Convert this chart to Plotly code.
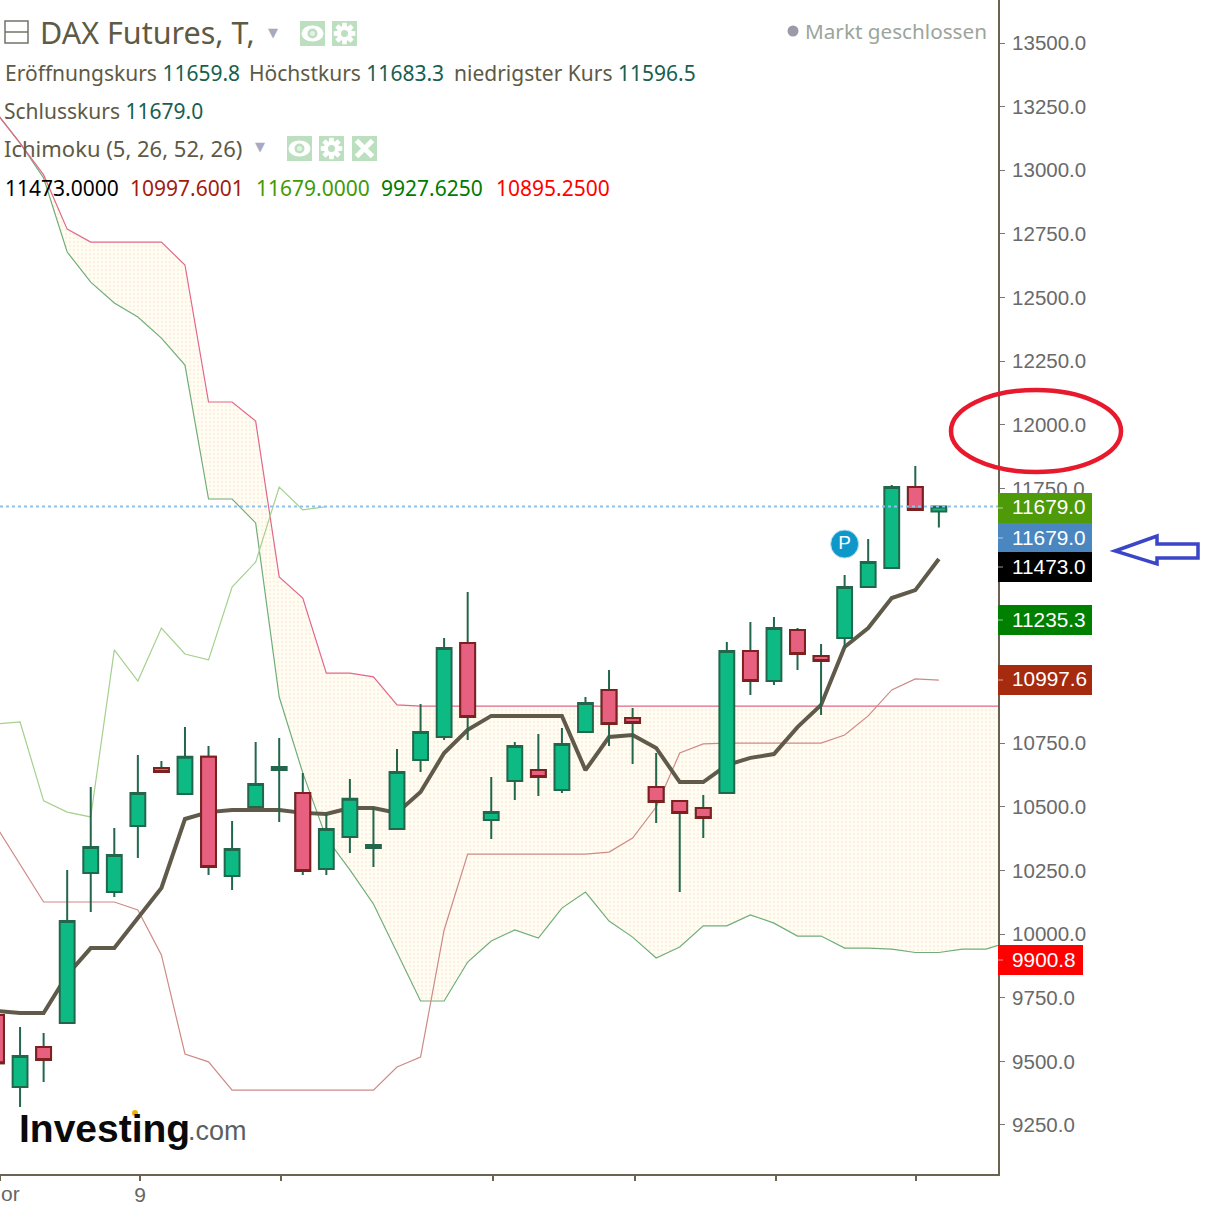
import math

import plotly.graph_objects as go

W, H = 1223, 1208
PLOT_W, PLOT_H = 998, 1174

# daily candles
candle_x = list(range(41))
candle_open = [9682, 9399, 9556, 9651, 10240, 10165, 10424, 10652, 10550, 10696, 10228, 10499, 10644, 10554, 10256, 10381, 10338, 10413, 10684, 10774, 11143,
               10448, 10601, 10644, 10566, 10794, 10959, 10849, 10578, 10523, 10495, 10554, 11112, 10994, 11194, 11092, 11163, 11363, 11438, 11756, 11659.8]
candle_high = [9694, 9635, 9611, 10252, 10578, 10417, 10703, 10680, 10813, 10739, 10444, 10754, 10770, 10633, 10476, 10609, 10495, 10727, 10904, 11163, 11344,
               10617, 10754, 10786, 10809, 10931, 11037, 10888, 10711, 10523, 10546, 11147, 11226, 11245, 11202, 11139, 11410, 11552, 11764, 11839, 11683.3]
candle_low = [9482, 9321, 9419, 9651, 10087, 10146, 10299, 10637, 10550, 10232, 10173, 10499, 10440, 10232, 10232, 10318, 10263, 10409, 10637, 10762, 10762,
              10373, 10527, 10542, 10554, 10794, 10739, 10668, 10436, 10165, 10377, 10554, 10939, 10978, 11037, 10860, 11128, 11363, 11438, 11666, 11596.5]
candle_close = [9493, 9521, 9505, 10051, 10342, 10311, 10554, 10637, 10696, 10263, 10334, 10589, 10656, 10248, 10413, 10531, 10350, 10637, 10794, 11124, 10853,
                10479, 10739, 10617, 10747, 10908, 10825, 10829, 10519, 10476, 10456, 11112, 10994, 11202, 11100, 11073, 11363, 11461, 11756, 11666, 11679.0]

# ichimoku lines
tenkan = [9698, 9690, 9690, 9839, 9945, 9945, 10063, 10181, 10452, 10479, 10487, 10487, 10487, 10476, 10472, 10495, 10495, 10476, 10558, 10711, 10802,
          10857, 10857, 10857, 10857, 10644, 10774, 10782, 10731, 10597, 10597, 10664, 10692, 10707, 10813, 10900, 11128, 11202, 11320, 11351, 11473]
kijun = [10421, 10275, 10126, 10126, 10126, 10126, 10095, 9918, 9529, 9498, 9387, 9387, 9387, 9387, 9387, 9387, 9387, 9478, 9517, 10016, 10314,
         10314, 10314, 10314, 10314, 10314, 10322, 10377, 10499, 10711, 10747, 10750, 10750, 10750, 10750, 10750, 10782, 10857, 10959, 11002, 10997.6]
chikou = [10825, 10833, 10523, 10479, 10460, 11116, 10994, 11202, 11100, 11077, 11363, 11461, 11756, 11666, 11679]
span_upper = [13225, 13107, 12982, 12769, 12718, 12718, 12718, 12718, 12628, 12090, 12090, 12015, 11403, 11320, 11025, 11025, 11010, 10900] + [10895.25] * 26
span_lower = [13225, 13107, 12970, 12679, 12561, 12479, 12424, 12341, 12235, 11709, 11709, 11615, 10931, 10633, 10377, 10252, 10118, 9930, 9737, 9737, 9890,
              9973, 10016, 9984, 10102, 10165, 10051, 9988, 9906, 9949, 10032, 10032, 10075, 10043, 9992, 9992, 9945, 9945, 9941, 9927.6, 9927.6, 9941, 9941, 9969]
cloud_x = list(range(44))

last_close = 11679.0
pivot_x, pivot_y = 36, 11532

# price tags on the right
tag_values = ["11679.0", "11679.0", "11473.0", "11235.3", "10997.6", "9900.8"]
tag_colors = ["#4f9a08", "#4a86c0", "#000000", "#008000", "#a52a0e", "#ff0000"]
tag_tops = [493, 523, 552, 605, 665, 945]
tag_widths = [94, 94, 94, 94, 94, 85]

# 11000, 11250 and 11500 sit behind the tags
y_ticks = [9250, 9500, 9750, 10000, 10250, 10500, 10750, 11750, 12000, 12250, 12500, 12750, 13000, 13250, 13500]
x_ticks = [0.15, 6.09, 12.08, 21.07, 27.1, 33.1, 39.03]
x_labels = ["", "9", "", "", "", "", ""]

y_range = [9057.5, 13669]
x_range = [0.1486, 42.51]


def px(x):
    return x / PLOT_W


def py(y):
    return 1 - y / PLOT_H


fig = go.Figure()

fig.add_trace(go.Scatter(x=cloud_x, y=span_lower, mode="lines", line=dict(color="#6fae78", width=1.2)))
fig.add_trace(go.Scatter(x=cloud_x, y=span_upper, mode="lines", line=dict(color="#e2688a", width=1.2), fill="tonexty",
                         fillcolor="#fffbea",
                         fillpattern=dict(shape=".", bgcolor="#fffef2", fgcolor="#fde0d6", size=4, solidity=0.3)))
fig.add_trace(go.Scatter(x=candle_x, y=kijun, mode="lines", line=dict(color="#cf8a86", width=1.2)))
fig.add_trace(go.Scatter(x=candle_x[:len(chikou)], y=chikou, mode="lines", line=dict(color="#a6d08e", width=1.2)))
fig.add_trace(go.Scatter(x=candle_x, y=tenkan, mode="lines", line=dict(color="#5f5a4a", width=4)))

# wicks and green bodies, red bodies go on top because their outline differs
fig.add_trace(go.Candlestick(x=candle_x, open=candle_open, high=candle_high, low=candle_low, close=candle_close,
                             xaxis="x2", yaxis="y2", whiskerwidth=0,
                             increasing=dict(line=dict(color="#22674c", width=2), fillcolor="#0dba84"),
                             decreasing=dict(line=dict(color="#22674c", width=2), fillcolor="#0dba84")))
red = [i for i in candle_x if candle_close[i] < candle_open[i]]
fig.add_trace(go.Candlestick(x=red, open=[candle_open[i] for i in red], high=[candle_open[i] for i in red],
                             low=[candle_close[i] for i in red], close=[candle_close[i] for i in red],
                             xaxis="x2", yaxis="y2", whiskerwidth=0,
                             increasing=dict(line=dict(color="#7c2020", width=2), fillcolor="#e8607f"),
                             decreasing=dict(line=dict(color="#7c2020", width=2), fillcolor="#e8607f")))
fig.add_trace(go.Scatter(x=[pivot_x], y=[pivot_y], mode="markers+text", text=["P"], textposition="middle center",
                         textfont=dict(color="white", size=19, family="Liberation Sans"),
                         marker=dict(size=28, color="#0e97c9", line=dict(color="#b5dfee", width=1)),
                         xaxis="x2", yaxis="y2"))

fig.add_shape(type="line", xref="paper", x0=0, x1=1, yref="y", y0=last_close, y1=last_close,
              line=dict(color="#8fc2ea", width=2, dash="dot"))


def label(x, y, text, size, color, family="Noto Sans", anchor="left"):
    fig.add_annotation(xref="paper", yref="paper", x=px(x), y=py(y), text=text, showarrow=False,
                       xanchor=anchor, yanchor="middle", borderpad=0,
                       font=dict(size=size, color=color, family=family))


def dot(x, y, r, color):
    fig.add_shape(type="circle", xref="paper", yref="paper", x0=px(x - r), x1=px(x + r), y0=py(y + r), y1=py(y - r),
                  fillcolor=color, line=dict(width=0))


GREY = "#5d5a45"
VAL = "#17604f"

# legend block
label(39, 32, "DAX Futures, T,", 30.5, GREY)
label(4, 72.6, f'Eröffnungskurs <span style="color:{VAL}">11659.8</span>', 21, GREY)
label(248, 72.6, f'Höchstkurs <span style="color:{VAL}">11683.3</span>', 21, GREY)
label(453, 72.6, f'niedrigster Kurs <span style="color:{VAL}">11596.5</span>', 21, GREY)
label(3, 110.6, f'Schlusskurs <span style="color:{VAL}">11679.0</span>', 21, GREY)
label(3, 148, "Ichimoku (5, 26, 52, 26)", 22, GREY)
label(4, 187.6, "11473.0000", 21, "#000000")
label(129, 187.6, "10997.6001", 21, "#a01c10")
label(255, 187.6, "11679.0000", 21, "#3f9a06")
label(380, 187.6, "9927.6250", 21, "#007a00")
label(495, 187.6, "10895.2500", 21, "#ff0000")
label(804, 30.6, "Markt geschlossen", 20.7, "#9ba59b")
dot(793, 31, 5.5, "#9a9aa8")
label(273, 33, "▼", 13, "#a9a9b9", family="DejaVu Sans", anchor="center")
label(260, 147, "▼", 13, "#a9a9c4", family="DejaVu Sans", anchor="center")

# collapse box
fig.add_shape(type="rect", xref="paper", yref="paper", x0=px(5), x1=px(28), y0=py(43), y1=py(21),
              line=dict(color="#6f7468", width=1.5), fillcolor="rgba(0,0,0,0)")
fig.add_shape(type="line", xref="paper", yref="paper", x0=px(5), x1=px(28), y0=py(32), y1=py(32),
              line=dict(color="#6f7468", width=1.5))

ICON_BG = "#bcdfc0"


def gear_path(cx, cy):
    pts = []
    for k in range(8):
        a = k * math.pi / 4
        for da, r in [(-0.33, 7.5), (-0.2, 11), (0.2, 11), (0.33, 7.5)]:
            pts.append((cx + r * math.cos(a + da), cy + r * math.sin(a + da)))
    return "M " + " L ".join(f"{px(a)} {py(b)}" for a, b in pts) + " Z"


def icon(x, y, kind):
    fig.add_shape(type="rect", xref="paper", yref="paper", x0=px(x), x1=px(x + 25), y0=py(y + 25), y1=py(y),
                  fillcolor=ICON_BG, line=dict(width=0))
    cx, cy = x + 12.5, y + 12.5
    if kind == "eye":
        fig.add_shape(type="circle", xref="paper", yref="paper", x0=px(cx - 11), x1=px(cx + 11), y0=py(cy + 8), y1=py(cy - 8),
                      fillcolor="white", line=dict(width=0))
        dot(cx, cy, 5, ICON_BG)
        dot(cx, cy, 2.5, "#e4f2e5")
    elif kind == "gear":
        fig.add_shape(type="path", xref="paper", yref="paper", path=gear_path(cx, cy), fillcolor="white", line=dict(width=0))
        dot(cx, cy, 3.5, ICON_BG)
    else:
        for a, b in [(-8, 8), (8, -8)]:
            fig.add_shape(type="line", xref="paper", yref="paper", x0=px(cx - 8), x1=px(cx + 8), y0=py(cy + a), y1=py(cy + b),
                          line=dict(color="white", width=5))


icon(300, 21, "eye")
icon(332, 21, "gear")
icon(287, 136, "eye")
icon(319, 136, "gear")
icon(352, 136, "x")

# logo
label(18, 1128, "<b>Investing</b>", 39, "#0a0a0a", family="Liberation Sans")
label(187, 1131, ".com", 27, "#5a5f66", family="Liberation Sans")
dot(135, 1113, 3, "#f0b400")

# x label cut off at the window edge
label(0, 1193, "or", 21, "#666666", family="Liberation Sans")

# price tags
for text, color, top, width in zip(tag_values, tag_colors, tag_tops, tag_widths):
    bottom = top + 30
    fig.add_shape(type="rect", xref="paper", yref="paper", x0=px(998), x1=px(998 + width), y0=py(bottom), y1=py(top),
                  fillcolor=color, line=dict(width=0), layer="above")
    fig.add_shape(type="line", xref="paper", yref="paper", x0=px(998), x1=px(1003), y0=py(top + 15), y1=py(top + 15),
                  line=dict(color="rgba(255,255,255,0.6)", width=1))
    label(1011, top + 14, text, 20.8, "white", family="Liberation Sans")

# hand drawn marks on top of the screenshot
fig.add_shape(type="circle", xref="paper", yref="paper", x0=px(951), x1=px(1121), y0=py(472), y1=py(390),
              line=dict(color="#e8192c", width=4.5), fillcolor="rgba(0,0,0,0)")
arrow = [(1115, 551), (1157, 536), (1157, 544), (1198, 544), (1198, 558), (1157, 558), (1157, 564)]
path = "M " + " L ".join(f"{px(a)} {py(b)}" for a, b in arrow) + " Z"
fig.add_shape(type="path", xref="paper", yref="paper", path=path, line=dict(color="#3a45c8", width=3.5), fillcolor="rgba(0,0,0,0)")

fig.update_layout(
    width=W, height=H, showlegend=False, hovermode=False,
    margin=dict(l=0, r=W - PLOT_W, t=0, b=H - PLOT_H),
    paper_bgcolor="white", plot_bgcolor="white", boxmode="overlay", boxgap=0.3, boxgroupgap=0.1,
    xaxis=dict(range=x_range, tickmode="array", tickvals=x_ticks, ticktext=x_labels, ticks="outside", ticklen=5,
               tickcolor="#6b6350", tickwidth=1.5, showgrid=False, zeroline=False, showline=True, linecolor="#6b6350",
               linewidth=2, tickfont=dict(size=21, color="#666666", family="Liberation Sans"), ticklabelstandoff=-4,
               rangeslider=dict(visible=False)),
    yaxis=dict(range=y_range, side="right", tickmode="array", tickvals=y_ticks, tickformat=".1f", ticks="outside", ticklen=5,
               tickcolor="#777777", showgrid=False, zeroline=False, showline=True, linecolor="#6b6350", linewidth=2,
               tickfont=dict(size=20.5, color="#6a6a6a", family="Liberation Sans"), ticklabelstandoff=3),
    xaxis2=dict(range=x_range, overlaying="x", visible=False, rangeslider=dict(visible=False), anchor="y2"),
    yaxis2=dict(range=y_range, overlaying="y", visible=False, anchor="x2"),
)

fig.write_html("out.html", config=dict(displayModeBar=False), post_script="document.body.style.margin='0';")
